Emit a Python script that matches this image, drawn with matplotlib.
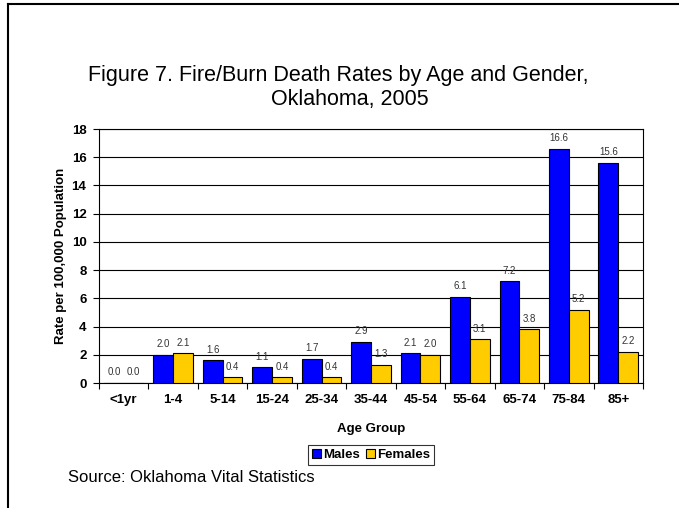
import matplotlib
matplotlib.use("Agg")
import matplotlib.pyplot as plt
import numpy as np
from matplotlib.lines import Line2D

categories = ["<1yr", "1-4", "5-14", "15-24", "25-34", "35-44", "45-54", "55-64", "65-74", "75-84", "85+"]
males = [0.0, 2.0, 1.6, 1.1, 1.7, 2.9, 2.1, 6.1, 7.2, 16.6, 15.6]
females = [0.0, 2.1, 0.4, 0.4, 0.4, 1.3, 2.0, 3.1, 3.8, 5.2, 2.2]
yticks = [0, 2, 4, 6, 8, 10, 12, 14, 16, 18]

plt.rcParams['font.family'] = ['Liberation Sans', 'DejaVu Sans']

W, H = 679, 508
fig = plt.figure(figsize=(W / 100, H / 100), dpi=100)
fig.patch.set_facecolor("white")

left, right, top, bottom = 99, 643, 129, 383
ax = fig.add_axes([left / W, 1 - bottom / H, (right - left) / W, (bottom - top) / H])

x = np.arange(len(categories))
bw = 0.4
mb = ax.bar(x - bw / 2, males, bw, color="#0000FF", edgecolor="black", linewidth=0.8, label="Males", zorder=3)
fb = ax.bar(x + bw / 2, females, bw, color="#FFCC00", edgecolor="black", linewidth=0.8, label="Females", zorder=3)

for bars, vals in ((mb, males), (fb, females)):
    for b, v in zip(bars, vals):
        ax.text(b.get_x() + b.get_width() / 2, v + 0.4, f"{v:.1f}", ha="center", va="bottom",
                fontsize=7, color="#333333", zorder=4)

ax.set_xlim(-0.5, len(categories) - 0.5)
ax.set_ylim(0, 18)
ax.set_yticks(yticks)
ax.set_yticklabels([str(t) for t in yticks], fontsize=9.5, fontweight="bold")
ax.set_xticks(x)
ax.set_xticklabels(categories, fontsize=9.5, fontweight="bold")
ax.tick_params(axis="x", length=0, pad=8)
ax.set_xticks(np.arange(-0.5, len(categories), 1), minor=True)
ax.tick_params(axis="x", which="minor", length=4, width=0.8, direction="out")
ax.tick_params(axis="y", length=4, width=0.8, direction="out", pad=5)

ax.yaxis.grid(True, color="black", linewidth=0.8, zorder=0)
ax.set_axisbelow(True)
for s in ax.spines.values():
    s.set_linewidth(0.8)
    s.set_color("black")

ax.set_ylabel("Rate per 100,000 Population", fontsize=9.5, fontweight="bold", labelpad=3)
ax.set_xlabel("Age Group", fontsize=9.5, fontweight="bold", labelpad=12)

leg = ax.legend(loc="center", bbox_to_anchor=(0.5, 1 - (455 - top) / (bottom - top)), ncol=2,
                prop={"weight": "bold", "size": 9.5}, frameon=True, fancybox=False,
                edgecolor="black", handlelength=0.7, handleheight=0.7, handletextpad=0.2,
                columnspacing=0.4, borderpad=0.3, borderaxespad=0)
leg.get_frame().set_linewidth(0.8)

fig.text(338 / W, 1 - 75 / H, "Figure 7. Fire/Burn Death Rates by Age and Gender,", ha="center", va="center", fontsize=15.5)
fig.text(350 / W, 1 - 99 / H, "Oklahoma, 2005", ha="center", va="center", fontsize=15.5)
fig.text(68 / W, 1 - 478 / H, "Source: Oklahoma Vital Statistics", ha="left", va="center", fontsize=12)

fig.add_artist(Line2D([7.5 / W, 7.5 / W], [0, 1 - 4 / H], transform=fig.transFigure, color="black", linewidth=1.5))
fig.add_artist(Line2D([7.5 / W, 1], [1 - 4 / H, 1 - 4 / H], transform=fig.transFigure, color="black", linewidth=1.5))

fig.savefig("out.png", dpi=100)
